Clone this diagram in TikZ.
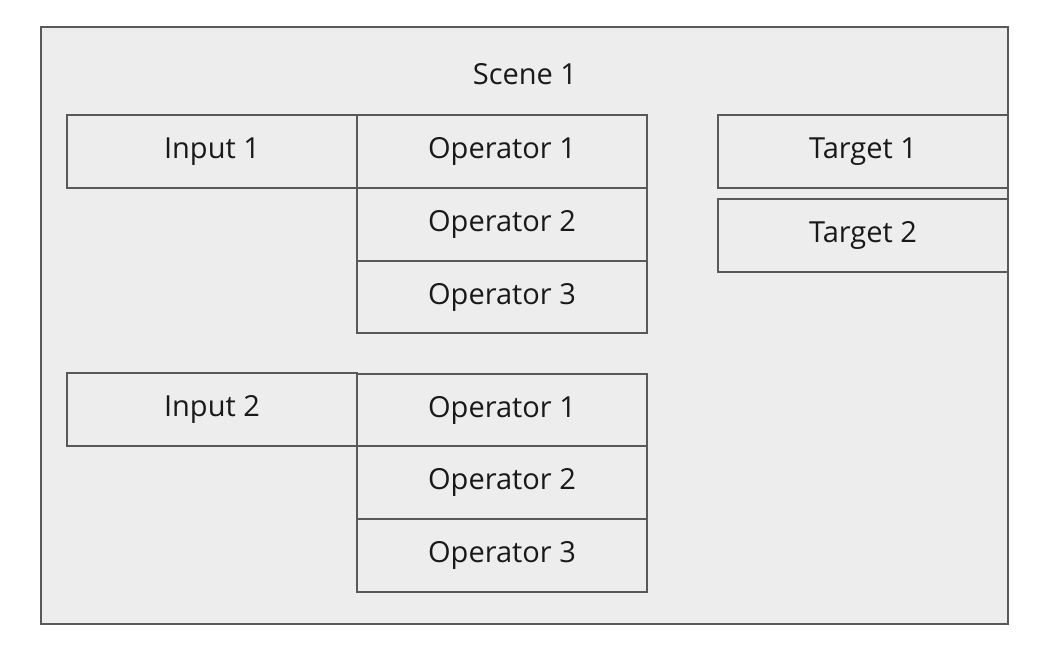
\documentclass[tikz,border=0pt]{standalone}
\usepackage{fontspec}
\setmainfont{Open Sans}
\begin{document}
\begin{tikzpicture}[x=1pt,y=-1pt,
  box/.style={draw=black!65,line width=1.5pt,fill=black!7},
  lbl/.style={font=\fontsize{29}{34}\selectfont,text=black!90}]
\useasboundingbox (0,0) rectangle (1042,652);
\fill[white] (0,0) rectangle (1042,652);
\draw[box] (41,27) rectangle (1008,624);
\node[lbl] (scene) at (525,74) {Scene 1};
\draw[box] (67,115) rectangle node[lbl] (in1) {Input 1} (357,188);
\draw[box] (357,115) rectangle node[lbl] (a1) {Operator 1} (647,188);
\draw[box] (357,188) rectangle node[lbl] (a2) {Operator 2} (647,261);
\draw[box] (357,261) rectangle node[lbl] (a3) {Operator 3} (647,333);
\draw[box] (718,115) rectangle node[lbl] (t1) {Target 1} (1008,188);
\draw[box] (718,199) rectangle node[lbl] (t2) {Target 2} (1008,272);
\draw[box] (67,373) rectangle node[lbl] (in2) {Input 2} (357,446);
\draw[box] (357,374) rectangle node[lbl] (b1) {Operator 1} (647,446);
\draw[box] (357,446) rectangle node[lbl] (b2) {Operator 2} (647,519);
\draw[box] (357,519) rectangle node[lbl] (b3) {Operator 3} (647,592);
\end{tikzpicture}
\end{document}
